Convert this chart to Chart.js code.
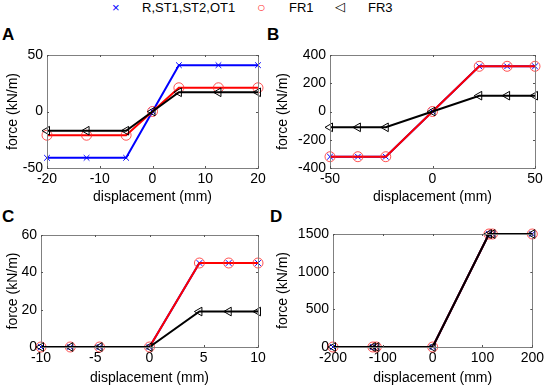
<!DOCTYPE html>
<html><head><meta charset="utf-8">
<script src="https://cdn.jsdelivr.net/npm/chart.js@4.4.0/dist/chart.umd.min.js"></script>
<style>
html,body{margin:0;padding:0;background:#fff;}
body{width:547px;height:388px;position:relative;overflow:hidden;font-family:"Liberation Sans",Arial,sans-serif;}
canvas{position:absolute;left:0;top:0;}
.t{position:absolute;white-space:nowrap;line-height:1;}
.lab{font-weight:bold;font-size:17px;}
</style></head><body>
<div class="t" style="left:112px;top:1px;font-size:13px;color:#0000ff">×</div>
<div class="t" style="left:142px;top:1px;font-size:13px;">R,ST1,ST2,OT1</div>
<div class="t" style="left:257px;top:0px;font-size:14px;color:#ff3030">○</div>
<div class="t" style="left:289px;top:1px;font-size:13px;">FR1</div>
<div class="t" style="left:335px;top:0px;font-size:13px;">◁</div>
<div class="t" style="left:368px;top:1px;font-size:13px;">FR3</div>
<div class="t lab" style="left:2px;top:26px;">A</div>
<div class="t lab" style="left:267px;top:26px;">B</div>
<div class="t lab" style="left:2px;top:208px;">C</div>
<div class="t lab" style="left:270px;top:208px;">D</div>
<canvas id="cA" width="547" height="388"></canvas>
<canvas id="cB" width="547" height="388"></canvas>
<canvas id="cC" width="547" height="388"></canvas>
<canvas id="cD" width="547" height="388"></canvas>
<script>
// Panel A
const A_x = [-20, -12.5, -5, 0, 5, 12.5, 20];
const A_blue = [-41, -41, -41, 0, 41, 41, 41];
const A_red = [-21, -21, -21, 0, 21, 21, 21];
const A_black = [-17, -17, -17, 0, 17, 17, 17];
const A_xticks = [-20, -10, 0, 10, 20];
const A_yticks = [-50, 0, 50];
// Panel B
const B_x = [-50, -36.4, -22.8, 0, 22.8, 36.4, 50];
const B_blue = [-320, -320, -320, 0, 320, 320, 320];
const B_red = [-320, -320, -320, 0, 320, 320, 320];
const B_black = [-112, -112, -112, 0, 112, 112, 112];
const B_xticks = [-50, 0, 50];
const B_yticks = [-400, -200, 0, 200, 400];
// Panel C
const C_x = [-10, -7.3, -4.6, 0, 4.6, 7.3, 10];
const C_blue = [0, 0, 0, 0, 45, 45, 45];
const C_red = [0, 0, 0, 0, 45, 45, 45];
const C_black = [0, 0, 0, 0, 19, 19, 19];
const C_xticks = [-10, -5, 0, 5, 10];
const C_yticks = [0, 20, 40, 60];
// Panel D
const D_x = [-200, -120, -113, 0, 113, 120, 200];
const D_blue = [0, 0, 0, 0, 1500, 1500, 1500];
const D_red = [0, 0, 0, 0, 1500, 1500, 1500];
const D_black = [0, 0, 0, 0, 1500, 1500, 1500];
const D_xticks = [-200, -100, 0, 100, 200];
const D_yticks = [0, 500, 1000, 1500];

const FONT = '"Liberation Sans", Arial, sans-serif';
Chart.defaults.font.family = FONT;
Chart.defaults.color = '#000';

const boxPlugin = {
  id: 'box',
  afterDatasetsDraw(chart) {
    const {ctx, chartArea: a, scales} = chart;
    ctx.save();
    ctx.strokeStyle = '#808080';
    ctx.lineWidth = 1;
    ctx.strokeRect(Math.round(a.left) + 0.5, Math.round(a.top) + 0.5, Math.round(a.right - a.left), Math.round(a.bottom - a.top));
    ctx.strokeStyle = '#555';
    ctx.beginPath();
    scales.x.ticks.forEach(t => {
      const px = Math.round(scales.x.getPixelForValue(t.value)) + 0.5;
      ctx.moveTo(px, a.bottom); ctx.lineTo(px, a.bottom - 2);
      ctx.moveTo(px, a.top); ctx.lineTo(px, a.top + 2);
    });
    scales.y.ticks.forEach(t => {
      const py = Math.round(scales.y.getPixelForValue(t.value)) + 0.5;
      ctx.moveTo(a.left, py); ctx.lineTo(a.left + 2, py);
      ctx.moveTo(a.right, py); ctx.lineTo(a.right - 2, py);
    });
    ctx.stroke();
    ctx.restore();
  }
};

function pts(xs, ys) { return xs.map((x, i) => ({x: x, y: ys[i]})); }

function makeChart(id, xs, blue, red, black, xticks, yticks, cfg) {
  const ds = [
    {data: pts(xs, blue), borderColor: '#0000ff', borderWidth: 2, pointStyle: 'crossRot', pointRadius: 4,
     pointBorderColor: '#0000ff', pointBorderWidth: 1, pointBackgroundColor: 'rgba(0,0,0,0)', order: 3},
    {data: pts(xs, red), borderColor: '#ff0000', borderWidth: 2, pointStyle: 'circle', pointRadius: 5,
     pointBorderColor: 'rgba(255,40,40,0.8)', pointBorderWidth: 1, pointBackgroundColor: 'rgba(0,0,0,0)', order: 2},
    {data: pts(xs, black), borderColor: '#000000', borderWidth: 2, pointStyle: 'triangle', pointRotation: -90, pointRadius: 5,
     pointBorderColor: '#000', pointBorderWidth: 1, pointBackgroundColor: 'rgba(0,0,0,0)', order: 1}
  ];
  ds.forEach(d => { d.showLine = true; d.tension = 0; d.fill = false; d.clip = false; d.pointHoverRadius = d.pointRadius; });
  new Chart(document.getElementById(id), {
    type: 'scatter',
    data: {datasets: ds},
    options: {
      responsive: false, animation: false, devicePixelRatio: 1,
      layout: {padding: cfg.pad},
      plugins: {legend: {display: false}, tooltip: {enabled: false}},
      scales: {
        x: {
          type: 'linear', min: xticks[0], max: xticks[xticks.length - 1],
          afterBuildTicks: s => { s.ticks = xticks.map(v => ({value: v})); },
          afterFit: s => { s.height = cfg.xh; },
          grid: {display: false, drawTicks: false},
          border: {display: false},
          ticks: {font: {size: 14}, padding: 3, maxRotation: 0, autoSkip: false, color: '#000',
                  callback: v => String(v)},
          title: {display: true, text: 'displacement (mm)', font: {size: 14}, padding: 0, color: '#000'}
        },
        y: {
          type: 'linear', min: yticks[0], max: yticks[yticks.length - 1],
          afterBuildTicks: s => { s.ticks = yticks.map(v => ({value: v})); },
          afterFit: s => { s.width = cfg.yw; },
          grid: {display: false, drawTicks: false},
          border: {display: false},
          ticks: {font: {size: 14}, padding: 4, autoSkip: false, color: '#000',
                  callback: v => String(v)},
          title: {display: true, text: 'force (kN/m)', font: {size: 14}, padding: 0, color: '#000'}
        }
      }
    },
    plugins: [boxPlugin]
  });
}

makeChart('cA', A_x, A_blue, A_red, A_black, A_xticks, A_yticks,
  {pad: {left: 5, top: 55, right: 289, bottom: 182.6}, yw: 42, xh: 37.4});
makeChart('cB', B_x, B_blue, B_red, B_black, B_xticks, B_yticks,
  {pad: {left: 275, top: 55, right: 12, bottom: 182.6}, yw: 55, xh: 37.4});
makeChart('cC', C_x, C_blue, C_red, C_black, C_xticks, C_yticks,
  {pad: {left: 5, top: 235, right: 289, bottom: 1.6}, yw: 36, xh: 39.4});
makeChart('cD', D_x, D_blue, D_red, D_black, D_xticks, D_yticks,
  {pad: {left: 275, top: 234, right: 13, bottom: 1.6}, yw: 58, xh: 39.4});
</script>
</body></html>
